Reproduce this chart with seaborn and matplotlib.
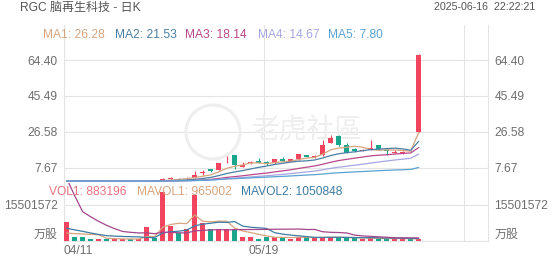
import numpy as np
import pandas as pd
import matplotlib
matplotlib.use("Agg")
import matplotlib.pyplot as plt
import seaborn as sns
from matplotlib.patches import Ellipse

# ---------------- data ----------------
tick_labels = ["04/11", "05/19", ""]
tick_index = [0, 25, 50]

open_ = [0.50, 0.58, 0.52, 0.48, 0.45, 0.47, 0.44, 0.47, 0.50, 0.47,
         0.50, 0.75, 0.66, 1.90, 2.20, 2.00, 2.50, 5.00, 6.80, 6.50,
         11.5, 14.4, 8.20, 10.0, 11.4, 10.8, 10.0, 12.1, 11.4, 12.1,
         14.2, 13.3, 14.4, 20.8, 24.4, 19.6, 17.4, 16.6, 17.2, 19.6,
         16.9, 15.6, 15.3, 16.2, 26.6]
high = [0.62, 0.60, 0.55, 0.50, 0.50, 0.48, 0.49, 0.52, 0.51, 0.52,
        0.85, 0.78, 2.30, 2.60, 2.50, 2.80, 6.10, 6.40, 7.00, 10.2,
        13.8, 14.6, 10.8, 11.0, 12.6, 11.0, 12.3, 13.5, 12.3, 15.1,
        14.6, 14.2, 22.3, 24.9, 24.7, 20.8, 18.0, 17.4, 22.3, 19.8,
        17.3, 16.8, 16.6, 16.5, 67.6]
low = [0.45, 0.48, 0.45, 0.42, 0.43, 0.42, 0.43, 0.46, 0.45, 0.46,
       0.48, 0.62, 0.65, 1.70, 1.80, 1.90, 2.40, 4.00, 5.60, 6.20,
       10.0, 6.80, 8.00, 9.80, 10.1, 9.10, 9.80, 11.0, 11.2, 11.9,
       13.2, 13.0, 14.0, 20.5, 19.3, 15.3, 15.8, 16.4, 17.0, 17.2,
       14.4, 15.4, 15.1, 15.7, 26.3]
close = [0.58, 0.52, 0.48, 0.45, 0.47, 0.44, 0.47, 0.50, 0.47, 0.50,
         0.75, 0.66, 1.90, 2.20, 2.00, 2.50, 3.80, 5.30, 5.80, 10.0,
         11.8, 9.10, 9.10, 10.8, 10.3, 9.60, 12.1, 11.2, 12.1, 14.9,
         13.5, 13.9, 19.6, 23.5, 19.6, 15.6, 16.6, 16.9, 17.8, 17.4,
         16.6, 16.1, 15.8, 15.9, 67.0]
volume = [8.3e6, 1.85e6, 1.6e6, 1.0e6, 0.73e6, 0.73e6, 1.0e6, 1.0e6, 0.73e6, 0.73e6,
          5.9e6, 1.16e6, 21.2e6, 6.6e6, 3.3e6, 5.0e6, 19.8e6, 7.9e6, 5.0e6, 5.0e6,
          5.0e6, 5.0e6, 1.6e6, 1.6e6, 1.0e6, 1.85e6, 1.85e6, 1.6e6, 1.0e6, 1.85e6,
          1.6e6, 1.5e6, 1.6e6, 1.7e6, 1.6e6, 1.3e6, 1.1e6, 1.0e6, 1.2e6, 1.08e6,
          1.0e6, 0.95e6, 1.0e6, 0.99e6, 883196]
# earlier history that seeds the moving averages (estimated from the MA lines)
pre_close = [0.75, 0.72, 0.70, 0.74, 0.71, 0.69, 0.73, 0.70, 0.68, 0.66,
             0.64, 0.62, 0.60, 0.58, 0.55]
pre_volume = [150e6, 140e6, 45e6, 40e6, 35e6, 30e6, 25e6, 8e6, 6e6, 5e6,
              9e6, 8e6, 8e6, 7e6, 6e6, 3e6, 2.5e6, 1.8e6, 1.5e6]

ma_names = ["MA1", "MA2", "MA3", "MA4", "MA5"]
ma_periods = [5, 10, 20, 30, 60]
ma_shown = [26.28, 21.53, 18.14, 14.67, 7.80]
vol_names = ["VOL1", "MAVOL1", "MAVOL2"]
vol_shown = [883196, 965002, 1050848]
mavol_periods = [5, 10, 20]

price_ticks = [7.67, 26.58, 45.49, 64.40]
vol_ticks = [0, 15501572]
vol_tick_labels = ["万股", "15501572"]

# ---------------- style ----------------
UP, DOWN = "#f2435f", "#19a68c"
MA_COLORS = ["#d6a47e", "#4b7ea3", "#b9478c", "#a6a6e2", "#5aa2d2"]
MAVOL_COLORS = ["#d6a47e", "#3f7ca2", "#a4468c"]
VOL_TEXT_COLORS = ["#ea7480", "#d6a47e", "#3f7ca2"]
GRID = "#e4e4e4"
TXT = "#6e6e6e"
FS = 8.64

sns.set_theme(style="white")
plt.rcParams["font.family"] = ["Liberation Sans", "Noto Sans CJK SC", "DejaVu Sans"]

W, H = 552, 265
fig = plt.figure(figsize=(W / 100, H / 100), dpi=100)
fig.patch.set_facecolor("white")


def fx(px):
    return px / W


def fy(py):
    return 1 - py / H


axp = fig.add_axes([fx(64), fy(183), fx(488) - fx(64), fy(25) - fy(183)])
axv = fig.add_axes([fx(64), fy(241), fx(488) - fx(64), fy(183) - fy(241)])

n = len(close)
idx = np.arange(n)
o = np.array(open_); c = np.array(close); h = np.array(high); l = np.array(low)
colors = np.where(c >= o, UP, DOWN)

# moving averages
full_close = pd.Series(pre_close + close)
ma_frames = []
for name, p in zip(ma_names, ma_periods):
    ma = full_close.rolling(p, min_periods=1).mean().to_numpy()[len(pre_close):]
    ma_frames.append(pd.DataFrame({"i": idx, "value": ma, "name": name}))
ma_long = pd.concat(ma_frames, ignore_index=True)

full_vol = pd.Series(pre_volume + volume)
mv_frames = []
for k, p in enumerate(mavol_periods):
    mv = full_vol.rolling(p, min_periods=1).mean().to_numpy()[len(pre_volume):]
    mv_frames.append(pd.DataFrame({"i": idx, "value": mv, "name": f"MAVOL{k+1}"}))
mv_long = pd.concat(mv_frames, ignore_index=True)

# ---------------- price pane ----------------
xlim = (-0.33, 52.66)
xt = [t - 0.33 for t in tick_index]
body_w = 0.66

axp.vlines(idx, l, h, colors=colors, lw=0.8, zorder=3)
body_bottom = np.minimum(o, c)
body_h = np.maximum(np.abs(c - o), 0.3)
axp.bar(idx, body_h, bottom=body_bottom, width=body_w, color=colors, linewidth=0, zorder=3)

sns.lineplot(data=ma_long, x="i", y="value", hue="name", hue_order=ma_names,
             palette=dict(zip(ma_names, MA_COLORS)), linewidth=0.9, legend=False,
             ax=axp, zorder=4)

axp.set_xlim(*xlim)
axp.set_ylim(-0.39, 82.86)
axp.set_yticks(price_ticks)
axp.set_yticklabels([f"{v:.2f}" for v in price_ticks])
axp.set_xticks(xt)
axp.set_xticklabels([])
axp.tick_params(axis="y", left=False, right=False, labelleft=True, labelright=True,
                length=0, pad=4.6, labelsize=FS, labelcolor=TXT)
axp.tick_params(axis="x", bottom=False, labelbottom=False, length=0)
axp.grid(True, color=GRID, lw=0.8)
axp.set_xlabel(""); axp.set_ylabel("")
for s in ["top", "bottom"]:
    axp.spines[s].set_visible(False)
for s in ["left", "right"]:
    axp.spines[s].set_color(GRID); axp.spines[s].set_linewidth(0.8)

# ---------------- volume pane ----------------
vol_df = pd.DataFrame({"i": idx, "vol": volume,
                       "dir": np.where(c >= o, "up", "down")})
sns.barplot(data=vol_df, x="i", y="vol", hue="dir", palette={"up": UP, "down": DOWN},
            native_scale=True, width=body_w, dodge=False, legend=False,
            errorbar=None, saturation=1, linewidth=0, ax=axv, zorder=3)
sns.lineplot(data=mv_long, x="i", y="value", hue="name",
             hue_order=["MAVOL1", "MAVOL2", "MAVOL3"],
             palette=dict(zip(["MAVOL1", "MAVOL2", "MAVOL3"], MAVOL_COLORS)),
             linewidth=0.9, legend=False, ax=axv, zorder=4)
axv.set_xlim(*xlim)
axv.set_ylim(0, 24.97e6)
axv.set_yticks(vol_ticks)
axv.set_yticklabels(vol_tick_labels)
axv.set_xticks(xt)
axv.set_xticklabels(tick_labels)
axv.tick_params(axis="y", left=False, right=False, labelleft=True, labelright=True,
                length=0, pad=4.6, labelsize=FS, labelcolor=TXT)
axv.tick_params(axis="x", bottom=False, length=0, labelsize=FS, labelcolor=TXT, pad=3)
axv.grid(True, color=GRID, lw=0.8)
axv.set_xlabel(""); axv.set_ylabel("")
axv.spines["top"].set_visible(False)
for s in ["left", "right", "bottom"]:
    axv.spines[s].set_color(GRID); axv.spines[s].set_linewidth(0.8)
ticks = axv.yaxis.get_major_ticks()
ticks[0].label1.set_va("bottom"); ticks[0].label2.set_va("bottom")
axv.xaxis.get_major_ticks()[0].label1.set_ha("left")

# ---------------- texts ----------------
fig.text(fx(20), fy(8), "RGC 脑再生科技 - 日K", fontsize=FS, color="#555555",
         ha="left", va="center")
fig.text(fx(535), fy(7.5), "2025-06-16  22:22:21", fontsize=7.7, color="#555555",
         ha="right", va="center")

ma_x = [43, 115, 185, 258, 328]
for name, val, col, x in zip(ma_names, ma_shown, MA_COLORS, ma_x):
    fig.text(fx(x), fy(35), f"{name}: {val:.2f}", fontsize=FS, color=col,
             ha="left", va="center")

vol_x = [49, 137, 241]
for name, val, col, x in zip(vol_names, vol_shown, VOL_TEXT_COLORS, vol_x):
    fig.text(fx(x), fy(192), f"{name}: {val}", fontsize=FS, color=col,
             ha="left", va="center", zorder=10)

# watermark
wm = Ellipse((fx(213), fy(132)), 54 / W, 54 / H, transform=fig.transFigure,
             fill=False, edgecolor="#eeeeee", lw=2.2, zorder=1)
axp.add_patch(wm)
axp.text(fx(307), fy(131), "老虎社區", transform=fig.transFigure, fontsize=20,
         color="#eeeeee", ha="center", va="center", zorder=1, style="italic")

fig.savefig("out.png", dpi=100, facecolor="white")
